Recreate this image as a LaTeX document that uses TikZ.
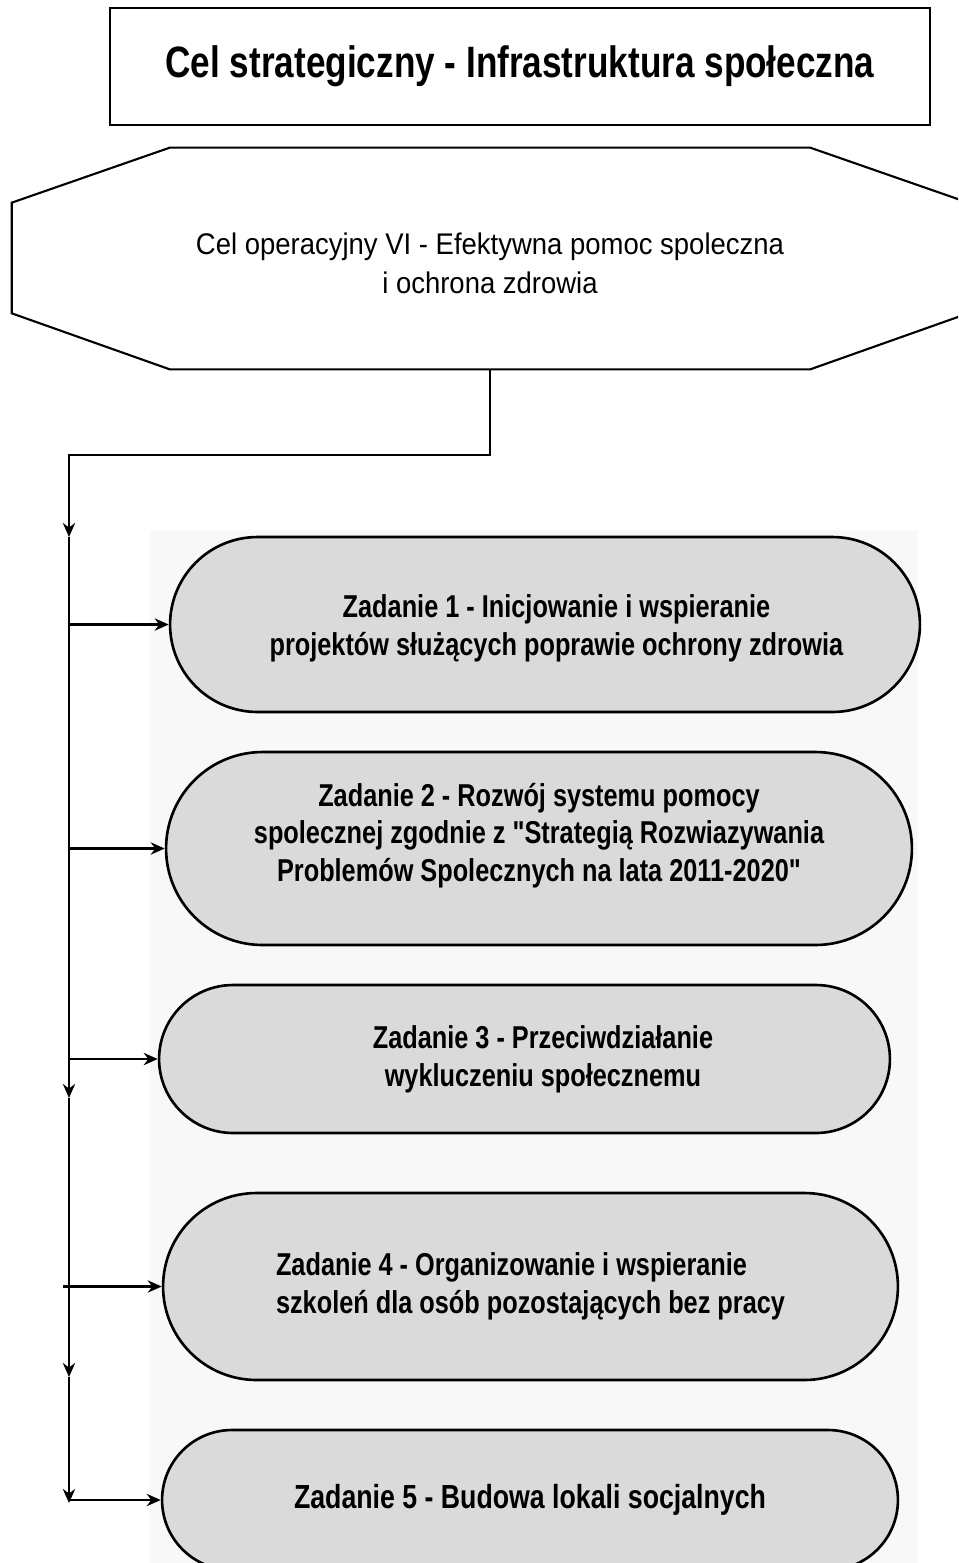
\documentclass[tikz,border=0pt]{standalone}
\usepackage{fontspec}
\setmainfont[FakeStretch=0.8, Ligatures=TeXOff]{Liberation Sans}
\newfontfamily\szeroki[FakeStretch=0.92]{Liberation Sans}
\usepackage{tikz}
\usepackage{xcolor}
\usetikzlibrary{
    arrows.meta,
    calc,
    shapes,
    shapes.misc
}
\definecolor{zadaniegray}{RGB}{218,218,218}
\definecolor{panelgray}{RGB}{248,248,248}
\tikzset{
    celbox/.style={draw, rectangle, line width=0.7pt, align=center, inner sep=0cm, font=\fontsize{25}{29}\selectfont\bfseries},
    operacyjny/.style={rectangle, align=center, inner sep=0cm, font=\szeroki\fontsize{17}{22}\selectfont},
    zadanie/.style={draw, rounded rectangle, fill=zadaniegray, line width=1.5pt, align=center, inner sep=0cm, font=\fontsize{18}{21.5}\selectfont\bfseries},
    link/.style={->, >={Stealth[length=8pt, width=7pt]}, line width=1.2pt}
}

\begin{document}
\begin{tikzpicture}[x=0.02cm, y=-0.02cm]
                \useasboundingbox (0,0) rectangle (958,1563);
                \clip (0,0) rectangle (958,1563);
                \fill[panelgray] (150,530) rectangle (918,1563);

                \node[celbox, minimum width=16.4cm, minimum height=2.34cm] (cel strat) at (520, 66.5) {Cel strategiczny - Infrastruktura społeczna};

                \node[operacyjny, minimum width=19.12cm, minimum height=4.42cm] (cel op) at (490, 258.5) {\rule{0pt}{18pt}Cel operacyjny VI - Efektywna pomoc spoleczna\\ i ochrona zdrowia};
                \draw[line width=1.2pt] ($(cel op.north west)+(158,0)$) -- ($(cel op.north east)+(-158,0)$) -- ($(cel op.north east)+(0,55)$) -- ($(cel op.south east)+(0,-56)$) -- ($(cel op.south east)+(-158,0)$) -- ($(cel op.south west)+(158,0)$) -- ($(cel op.south west)+(0,-56)$) -- ($(cel op.north west)+(0,55)$) -- cycle;

                \node[zadanie, minimum width=15cm, minimum height=3.5cm] (z1) at (545, 624.5) {\hspace*{13pt}\rule{0pt}{17.5pt}Zadanie 1 - Inicjowanie i wspieranie\\ \hspace*{13pt}projektów służących poprawie ochrony zdrowia};
                \node[zadanie, minimum width=14.92cm, minimum height=3.86cm] (z2) at (539, 848.5) {Zadanie 2 - Rozwój systemu pomocy\\ spolecznej zgodnie z "Strategią Rozwiazywania\\ Problemów Spolecznych na lata 2011-2020"\rule[-18.5pt]{0pt}{0pt}};
                \node[zadanie, minimum width=14.62cm, minimum height=2.96cm] (z3) at (524.5, 1059) {\hspace*{21pt}Zadanie 3 - Przeciwdziałanie\\ \hspace*{21pt}wykluczeniu społecznemu};
                \node[zadanie, align=left, minimum width=14.7cm, minimum height=3.74cm] (z4) at (530.5, 1286.5) {Zadanie 4 - Organizowanie i wspieranie\\ szkoleń dla osób pozostających bez pracy};
                \node[zadanie, minimum width=14.72cm, minimum height=2.8cm, font=\fontsize{19}{22}\selectfont\bfseries] (z5) at (530, 1500) {Zadanie 5 - Budowa lokali socjalnych};

                % pion po lewej
                \coordinate (zakret) at (69, 455);
                \coordinate (s1) at (69, 537);
                \coordinate (s2) at (69, 1098);
                \coordinate (s3) at (69, 1377);
                \coordinate (s4) at (69, 1503);
                \coordinate (w1) at (69, 624.5);
                \coordinate (w2) at (69, 848.5);
                \coordinate (w3) at (69, 1059);
                \coordinate (w4) at (63, 1286.5);
                \coordinate (w5) at (69, 1500);

                \draw[link] (cel op.south) |- (zakret) -- (s1);
                \draw[link] (s1)--(s2);
                \draw[link] (s2)--(s3);
                \draw[link] (s3)--(s4);
                \draw[link] (w1)--(z1.west);
                \draw[link] (w2)--(z2.west);
                \draw[link] (w3)--(z3.west);
                \draw[link] (w4)--(z4.west);
                \draw[link] (w5)--(z5.west);
\end{tikzpicture}
\end{document}
